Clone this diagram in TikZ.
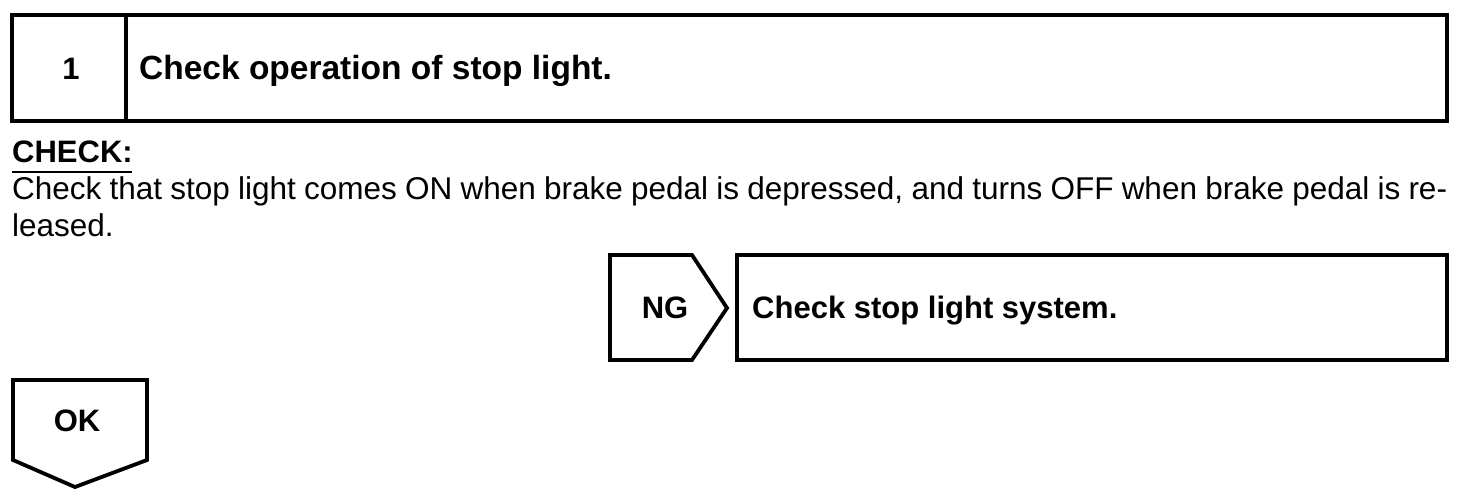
\documentclass[tikz,border=0pt]{standalone}
\usepackage{fontspec}
\setmainfont{Liberation Sans}
\begin{document}
\begin{tikzpicture}[x=1pt,y=-1pt,
  frame/.style={draw=black,line width=3.8pt,line join=miter},
  boldtxt/.style={font=\fontsize{31}{36}\selectfont\bfseries,inner sep=0pt},
  bodytxt/.style={font=\fontsize{31.5}{36}\selectfont,inner sep=0pt}]
\useasboundingbox (0,0) rectangle (1472,496);
% top box
\draw[frame] (12,15) rectangle (1447,121);
\draw[frame] (126,15) -- (126,121);
\node[boldtxt,anchor=base] (num) at (71,79) {1};
\node[boldtxt,font=\fontsize{33.5}{36}\selectfont\bfseries,anchor=base west] (title) at (139,79) {Check operation of stop light.};
% CHECK
\node[boldtxt,font=\fontsize{31}{36}\selectfont\bfseries,anchor=base west] (chk) at (12,162) {CHECK:};
\draw[line width=2.5pt] (12,172) -- (132,172);
\node[bodytxt,anchor=base west] (l1) at (12,199) {\makebox[1435pt][s]{Check that stop light comes ON when brake pedal is depressed, and turns OFF when brake pedal is re-}};
\node[bodytxt,anchor=base west] (l2) at (12,236) {leased.};
% NG
\draw[frame] (610,255) -- (692,255) -- (727,308) -- (692,360) -- (610,360) -- cycle;
\node[boldtxt,anchor=base] (ng) at (665,318) {NG};
\draw[frame] (737,255) rectangle (1447,360);
\node[boldtxt,anchor=base west] (sys) at (752,318) {Check stop light system.};
% OK
\draw[frame] (13,380) -- (147,380) -- (147,460) -- (75,487) -- (13,460) -- cycle;
\node[boldtxt,anchor=base] (ok) at (77,431) {OK};
\end{tikzpicture}
\end{document}
